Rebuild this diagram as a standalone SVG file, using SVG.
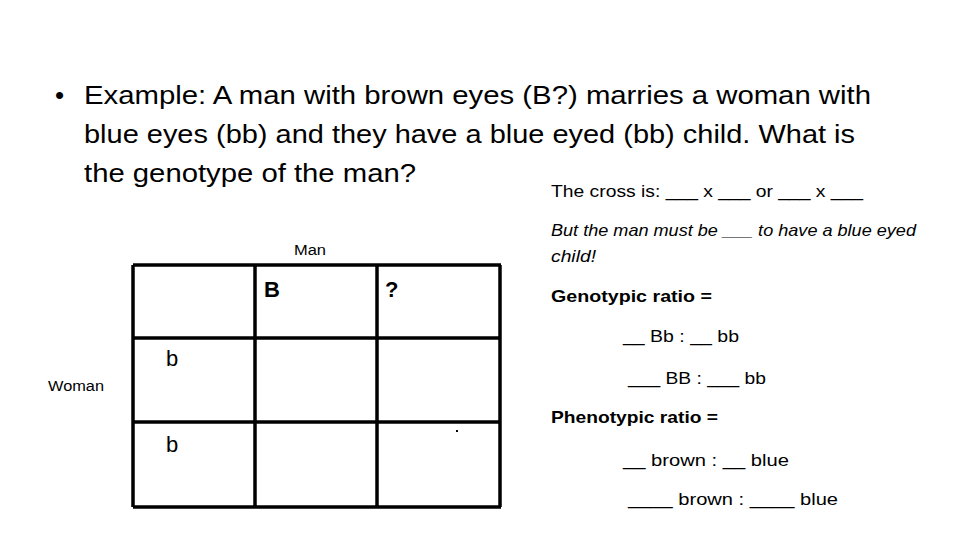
<svg xmlns="http://www.w3.org/2000/svg" width="960" height="540" viewBox="0 0 960 540">
<style>
text{font-family:"Liberation Sans","DejaVu Sans",sans-serif;fill:#000}
.big{font-size:26px}
.mid{font-size:17px}
.sm{font-size:14px}
.cell{font-size:22px}
.b{font-weight:bold}
.i{font-style:italic}
.grid line{stroke:#000;stroke-width:3.5}
</style>
<rect width="960" height="540" fill="#fff"/>
<g id="question">
<text x="55" y="104" class="big">•</text>
<text x="84" y="104" class="big" textLength="787" lengthAdjust="spacingAndGlyphs">Example: A man with brown eyes (B?) marries a woman with</text>
<text x="84" y="143" class="big" textLength="771" lengthAdjust="spacingAndGlyphs">blue eyes (bb) and they have a blue eyed (bb) child. What is</text>
<text x="84" y="182" class="big" textLength="332" lengthAdjust="spacingAndGlyphs">the genotype of the man?</text>
</g>
<g id="notes">
<text x="551" y="197" class="mid" textLength="312" lengthAdjust="spacingAndGlyphs">The cross is: ___ x ___ or ___ x ___</text>
<text x="551" y="236" class="mid i" textLength="365" lengthAdjust="spacingAndGlyphs">But the man must be ___ to have a blue eyed</text>
<text x="551" y="262" class="mid i" textLength="45" lengthAdjust="spacingAndGlyphs">child!</text>
<text x="551" y="302" class="mid b" textLength="161" lengthAdjust="spacingAndGlyphs">Genotypic ratio =</text>
<text x="623" y="342" class="mid" textLength="116" lengthAdjust="spacingAndGlyphs">__ Bb : __ bb</text>
<text x="628" y="384" class="mid" textLength="138" lengthAdjust="spacingAndGlyphs">___ BB : ___ bb</text>
<text x="551" y="423" class="mid b" textLength="167" lengthAdjust="spacingAndGlyphs">Phenotypic ratio =</text>
<text x="623" y="466" class="mid" textLength="166" lengthAdjust="spacingAndGlyphs">__ brown : __ blue</text>
<text x="628" y="505" class="mid" textLength="210" lengthAdjust="spacingAndGlyphs">____ brown : ____ blue</text>
</g>
<g id="punnett">
<g class="grid">
<line x1="133" y1="265" x2="501" y2="265"/>
<line x1="133" y1="338" x2="501" y2="338"/>
<line x1="133" y1="422" x2="501" y2="422"/>
<line x1="133" y1="507" x2="501" y2="507"/>
<line x1="133" y1="265" x2="133" y2="507"/>
<line x1="255" y1="265" x2="255" y2="507"/>
<line x1="377" y1="265" x2="377" y2="507"/>
<line x1="500" y1="265" x2="500" y2="507"/>
</g>
<text x="294" y="255" class="sm" textLength="32" lengthAdjust="spacingAndGlyphs">Man</text>
<text x="48" y="391" class="sm" textLength="56" lengthAdjust="spacingAndGlyphs">Woman</text>
<text x="264" y="297" class="cell b">B</text>
<text x="385" y="297" class="cell b">?</text>
<text x="166" y="366" class="cell">b</text>
<text x="166" y="452" class="cell">b</text>
<rect x="456" y="430" width="2" height="2" fill="#000"/>
</g>
</svg>
